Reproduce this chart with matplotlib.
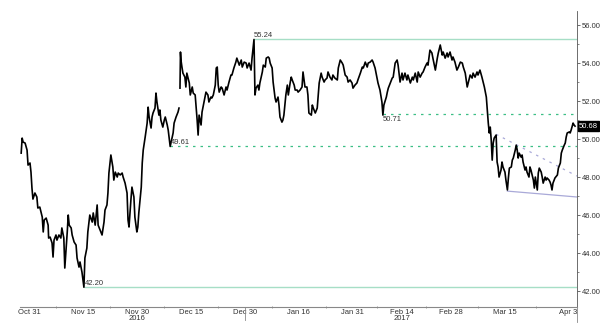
import numpy as np
import matplotlib.pyplot as plt
import matplotlib.transforms as mtransforms

plt.rcParams['font.family'] = ['Liberation Sans Narrow', 'Liberation Sans', 'DejaVu Sans']

# trading days counted from 2016-10-31
days = [-1.6, -1.4, -1.2, -0.8, -0.4, -0.2, 0.2, 0.4, 0.6, 0.8, 1.2, 1.6, 1.8, 2.2, 2.7, 2.9, 3.1, 3.5, 3.9, 4.0,
        4.3, 4.7, 4.9, 5.1, 5.5, 5.7, 6.1, 6.5, 6.7, 7.1, 7.3, 7.8, 8.0, 8.2, 8.6, 8.8, 9.2, 9.6, 9.8, 10.2,
        10.4, 10.8, 11.0, 11.2, 11.4, 11.8, 12.0, 12.4, 12.9, 13.1, 13.5, 13.9, 14.1, 14.5, 14.9, 15.3, 15.5, 15.9, 16.1, 16.3,
        16.7, 17.1, 17.3, 17.6, 18.0, 18.2, 18.6, 19.0, 19.2, 19.6, 20.0, 20.2, 20.4, 20.8, 21.0, 21.4, 21.6, 22.0, 22.2, 22.4,
        22.9, 23.1, 23.3, 23.7, 24.1, 24.3, 24.5, 24.9, 25.1, 25.3, 25.7, 25.9, 26.1, 26.5, 26.7, 26.9, 27.3, 27.6, 27.8, 28.2,
        28.4, 28.6, 28.8, 29.4, 29.6, 30.0, 30.4, 30.6, 30.7, 30.8, 30.9, 31.0, 31.2, 31.4, 31.8, 32.0, 32.2, 32.7, 32.9, 33.3,
        33.5, 33.9, 34.3, 34.5, 34.7, 35.1, 35.3, 35.7, 36.1, 36.5, 36.7, 37.1, 37.3, 37.6, 38.0, 38.2, 38.4, 38.6, 38.8, 39.2,
        39.4, 39.8, 40.2, 40.4, 40.8, 41.2, 41.4, 41.8, 42.2, 42.4, 42.9, 43.3, 43.5, 43.9, 44.3, 44.5, 44.9, 45.3, 45.5, 45.9,
        46.0, 46.1, 46.3, 46.7, 46.9, 47.1, 47.6, 47.8, 48.2, 48.4, 48.8, 49.0, 49.2, 49.6, 49.8, 50.2, 50.4, 50.8, 51.0, 51.2,
        51.6, 51.8, 52.0, 52.4, 52.7, 52.9, 53.3, 53.5, 53.7, 54.1, 54.3, 54.7, 54.9, 55.3, 55.7, 55.9, 56.3, 56.7, 56.9, 57.1,
        57.6, 57.8, 58.0, 58.4, 58.8, 59.0, 59.2, 59.6, 59.8, 60.2, 60.4, 60.8, 61.0, 61.4, 61.8, 62.0, 62.4, 62.9, 63.1, 63.5,
        63.9, 64.1, 64.5, 64.9, 65.1, 65.5, 65.9, 66.1, 66.5, 66.9, 67.1, 67.6, 68.0, 68.2, 68.6, 69.0, 69.2, 69.6, 70.0, 70.2,
        70.6, 71.0, 71.2, 71.6, 72.0, 72.2, 72.4, 72.9, 73.1, 73.3, 73.7, 74.1, 74.3, 74.7, 75.1, 75.3, 75.7, 76.1, 76.3, 76.7,
        77.1, 77.3, 77.8, 78.2, 78.4, 78.8, 79.2, 79.4, 79.8, 80.2, 80.4, 80.8, 81.2, 81.4, 81.8, 82.2, 82.4, 82.9, 83.3, 83.5,
        83.9, 84.3, 84.5, 84.9, 85.3, 85.5, 85.9, 86.3, 86.5, 86.9, 87.3, 87.6, 88.0, 88.4, 88.6, 89.0, 89.4, 89.6, 90.0, 90.4,
        90.6, 91.0, 91.4, 91.6, 92.0, 92.4, 92.7, 92.9, 93.3, 93.5, 93.7, 93.9, 94.1, 94.3, 94.5, 94.7, 94.9, 95.3, 95.5, 95.7,
        95.9, 96.3, 96.5, 96.7, 97.1, 97.3, 97.6, 97.8, 98.0, 98.4, 98.6, 98.8, 99.2, 99.4, 99.6, 99.8, 100.0, 100.4, 100.6, 100.8,
        101.2, 101.4, 101.6, 102.0, 102.2, 102.4, 102.9, 103.1, 103.3, 103.7, 103.9, 104.1, 104.5, 104.7, 104.9, 105.3, 105.5, 105.7, 106.1, 106.3,
        106.5, 106.7, 106.9, 107.3, 107.8, 108.0, 108.4, 108.6, 108.8, 109.2, 109.4, 109.6, 109.8, 110.2, 110.4, 110.6, 111.0, 111.2, 111.4]

prices = [49.26, 50.05, 49.84, 49.79, 49.42, 48.63, 48.74, 48.26, 47.42, 46.84, 47.16, 46.95, 46.37, 46.42, 45.89, 45.11, 45.74, 45.84, 45.47, 44.79,
          44.84, 44.53, 43.79, 44.68, 44.95, 44.68, 44.95, 44.79, 45.32, 44.79, 43.21, 45.11, 46.00, 45.47, 45.32, 44.95, 44.58, 44.42, 43.74, 43.26,
          43.53, 43.00, 42.58, 42.20, 43.74, 44.26, 45.11, 46.00, 45.63, 46.11, 45.47, 46.53, 45.47, 45.21, 44.95, 45.63, 46.26, 46.53, 47.16, 48.21,
          49.16, 48.53, 47.84, 48.26, 48.00, 48.21, 48.11, 48.21, 48.00, 47.68, 47.16, 45.74, 45.37, 46.84, 47.47, 46.95, 45.89, 45.11, 45.37, 46.11,
          47.47, 48.74, 49.42, 50.11, 50.84, 51.68, 51.16, 50.58, 51.16, 51.37, 51.63, 52.42, 51.95, 51.26, 51.53, 51.00, 50.63, 51.00, 51.16, 50.74,
          50.47, 50.05, 49.61, 50.32, 50.84, 51.16, 51.42, 51.63, np.nan, 52.68, 54.58, 54.16, 53.79, 53.47, 53.26, 52.74, 53.47, 52.95, 52.32, 52.74,
          52.42, 52.32, 51.00, 50.21, 51.26, 50.74, 51.42, 51.95, 52.47, 52.32, 51.95, 52.21, 52.16, 52.32, 52.84, 53.74, 53.79, 52.84, 52.47, 52.74,
          52.68, 52.32, 52.74, 52.58, 53.00, 53.37, 53.37, 53.74, 54.05, 54.26, 53.89, 54.16, 53.79, 54.05, 54.00, 53.74, 54.00, 53.63, 54.26, 55.24,
          53.89, 52.32, 52.68, 52.84, 52.58, 52.95, 53.53, 53.89, 53.79, 54.26, 54.32, 54.26, 54.00, 53.74, 53.00, 52.16, 51.95, 52.21, 51.79, 51.16,
          50.89, 51.00, 51.26, 52.32, 52.84, 52.32, 53.00, 53.26, 53.11, 52.84, 52.58, 52.58, 52.47, 52.58, 52.74, 53.53, 52.74, 52.74, 52.32, 51.37,
          51.26, 51.79, 51.63, 51.37, 51.63, 52.32, 52.95, 53.47, 53.26, 53.00, 53.11, 53.21, 53.53, 53.26, 53.11, 53.37, 53.21, 53.11, 53.74, 54.16,
          54.00, 53.89, 53.37, 53.26, 53.00, 53.11, 52.95, 52.68, 52.84, 52.95, 53.11, 53.47, 53.79, 53.74, 54.05, 53.79, 54.00, 54.05, 54.16, 54.05,
          53.74, 53.21, 52.95, 52.58, 51.95, 51.26, 51.79, 52.21, 52.47, 52.68, 52.95, 53.21, 53.26, 54.00, 54.16, 53.89, 53.00, 53.47, 53.11, 53.47,
          53.11, 53.37, 52.95, 53.26, 53.11, 53.47, 53.00, 53.53, 53.26, 53.47, 53.53, 53.79, 54.00, 53.89, 54.68, 54.53, 54.26, 53.63, 54.26, 54.53,
          54.95, 54.42, 54.58, 54.26, 54.53, 54.32, 54.58, 54.16, 54.32, 54.05, 53.63, 53.79, 54.05, 54.00, 53.79, 53.47, 52.74, 52.95, 53.37, 53.21,
          53.47, 53.26, 53.53, 53.37, 53.63, 53.26, 52.95, 52.74, 52.21, 51.53, 50.84, 50.32, 50.63, 49.95, 48.89, 49.79, 50.05, 50.21, 48.79, 48.53,
          48.00, 48.37, 48.79, 48.53, 48.26, 47.84, 47.32, 47.95, 48.47, 48.53, 48.89, 49.00, 49.42, 49.68, 49.42, 49.00, 49.26, 49.05, 49.16, 48.79,
          48.37, 48.53, 48.26, 48.00, 48.53, 48.37, 47.84, 47.42, 48.00, 47.32, 48.21, 48.47, 48.26, 48.00, 47.68, 48.00, 47.84, 47.95, 47.84, 47.74,
          47.58, 47.32, 47.68, 47.95, 48.11, 48.47, 48.74, 49.26, 49.42, 49.68, 49.79, 50.11, 50.32, 50.37, 50.32, 50.47, 50.84, 50.74, 50.68]

# x axis dates
tick_dates = ['2016-10-31', '2016-11-15', '2016-11-30', '2016-12-15', '2016-12-30', '2017-01-16',
              '2017-01-31', '2017-02-14', '2017-02-28', '2017-03-15', '2017-04-03']
tick_labels = ['Oct 31', 'Nov 15', 'Nov 30', 'Dec 15', 'Dec 30', 'Jan 16',
               'Jan 31', 'Feb 14', 'Feb 28', 'Mar 15', 'Apr 3']
year_dates = ['2016-11-30', '2017-02-14']
year_labels = ['2016', '2017']

# marked levels
high_level = 55.24
high_start = 45.9
low_level = 42.20
low_start = 11.2
support1 = 49.61
support1_start = 28.8
support2_line = 51.3
support2_label = '50.71'
support2_start = 72.2
last_price = 50.68

# channel lines (day, price)
upper_trend = ([95.3, 111.8], [50.25, 48.05])
lower_trend = ([97.6, 111.8], [47.26, 46.95])

y_ticks = [42, 44, 46, 48, 50, 52, 54, 56]

base = np.datetime64('2016-10-31')
tick_pos = [np.busday_count(base, np.datetime64(d)) for d in tick_dates]
year_pos = [np.busday_count(base, np.datetime64(d)) for d in year_dates]
minor_pos = [(a + b) / 2 for a, b in zip(tick_pos[:-1], tick_pos[1:])]

fig = plt.figure(figsize=(6, 3.23), dpi=100)
ax = fig.add_axes([20 / 600, 1 - 307 / 323, 557 / 600, 296 / 323])
x_right = 111.8
ax.set_xlim(-1.84, x_right)
ax.set_ylim(41.16, 56.74)

mint = '#a6dec6'
green = '#3cbf86'
lav = '#a9a9d8'
txt = '#333333'
fs = 5.5

ax.hlines(high_level, high_start, x_right, color=mint, lw=1.0)
ax.hlines(low_level, low_start, x_right, color=mint, lw=1.0)
ax.hlines(support1, support1_start, x_right, color=green, lw=0.9, linestyles=(0, (2, 4)))
ax.hlines(support2_line, support2_start, x_right, color=green, lw=0.9, linestyles=(0, (2, 4)))
ax.plot(*upper_trend, color=lav, lw=0.9, ls=(0, (2, 4)))
ax.plot(*lower_trend, color=lav, lw=0.9)

ax.plot(days, prices, color='black', lw=1.2)

ax.text(high_start, high_level + 0.05, f'{high_level:.2f}', fontsize=fs, color=txt, ha='left', va='bottom')
ax.text(low_start + 0.1, low_level + 0.02, f'{low_level:.2f}', fontsize=fs, color=txt, ha='left', va='bottom')
ax.text(support1_start + 0.2, support1 + 0.02, f'{support1:.2f}', fontsize=fs, color=txt, ha='left', va='bottom')
ax.text(support2_start, support2_line - 0.08, support2_label, fontsize=fs, color=txt, ha='left', va='top')

# axes styling
for s in ['left', 'top']:
    ax.spines[s].set_visible(False)
ax.spines['right'].set_color('#555555')
ax.spines['right'].set_linewidth(0.6)
ax.spines['bottom'].set_color('#888888')
ax.spines['bottom'].set_linewidth(0.8)

ax.yaxis.tick_right()
ax.set_yticks(y_ticks)
ax.set_yticklabels([f'{v:.2f}' for v in y_ticks])
ax.set_yticks(np.arange(43, 57, 2), minor=True)
ax.tick_params(axis='y', which='major', length=2.5, width=0.6, pad=1, labelsize=fs, colors='#555555', labelcolor=txt)
ax.tick_params(axis='y', which='minor', length=1.5, width=0.5, colors='#555555')

ax.set_xticks(tick_pos)
ax.set_xticklabels(tick_labels)
ax.set_xticks(minor_pos, minor=True)
ax.tick_params(axis='x', which='major', length=0, pad=1.5, labelsize=fs, labelcolor=txt)
ax.tick_params(axis='x', which='minor', length=2, width=0.6, direction='inout', colors='#888888')

xtr = ax.get_xaxis_transform()
for p, lab in zip(year_pos, year_labels):
    ax.text(p, -0.04, lab, transform=xtr, fontsize=fs, color=txt, ha='center', va='center')

# year separator and spine extension
ax.plot([tick_pos[4], tick_pos[4]], [0, -0.045], transform=xtr, color='#888888', lw=0.6, clip_on=False)
ax.plot([1, 1], [0, -0.05], transform=ax.transAxes, color='#888888', lw=0.6, clip_on=False)

# last price box
trans = mtransforms.blended_transform_factory(ax.transAxes, ax.transData)
ax.text(1.004, last_price, f'{last_price:.2f}', transform=trans, fontsize=fs, color='white',
        ha='left', va='center', bbox=dict(boxstyle='square,pad=0.15', fc='black', ec='black'))

plt.savefig('out.png', dpi=100)
